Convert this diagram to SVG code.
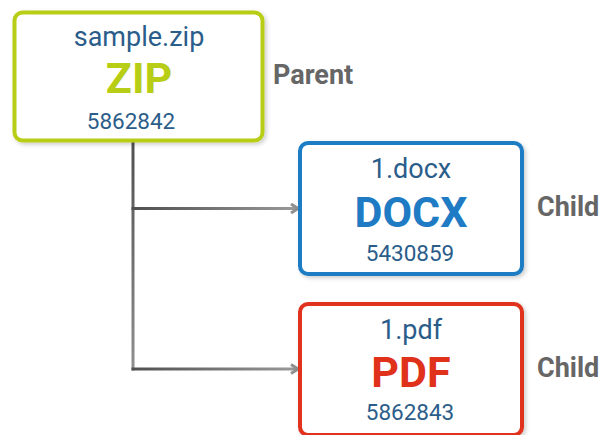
<svg xmlns="http://www.w3.org/2000/svg" width="603" height="435" viewBox="0 0 603 435">
  <style>
    .box { fill: #ffffff; stroke-width: 4; }
    .name { font-family: Roboto, "Liberation Sans", sans-serif; font-size: 27px; fill: #2b5d8a; text-anchor: middle; }
    .kind { font-family: Roboto, "Liberation Sans", sans-serif; font-size: 43px; font-weight: bold; text-anchor: middle; }
    .size { font-family: Roboto, "Liberation Sans", sans-serif; font-size: 22.5px; fill: #2b5d8a; text-anchor: middle; }
    .role { font-family: Roboto, "Liberation Sans", sans-serif; font-size: 27px; font-weight: bold; fill: #666666; }
    .wire { fill: none; stroke-width: 3; }
  </style>
  <defs>
    <filter id="shadow" x="-10%" y="-10%" width="125%" height="125%">
      <feDropShadow dx="2" dy="2" stdDeviation="2" flood-color="#000000" flood-opacity="0.2"/>
    </filter>
    <linearGradient id="branchGrad" gradientUnits="userSpaceOnUse" x1="133" y1="0" x2="298" y2="0">
      <stop offset="0" stop-color="#505050"/>
      <stop offset="1" stop-color="#9a9a9a"/>
    </linearGradient>
    <linearGradient id="trunkGrad" gradientUnits="userSpaceOnUse" x1="0" y1="142" x2="0" y2="370">
      <stop offset="0" stop-color="#505050"/>
      <stop offset="1" stop-color="#8f8f8f"/>
    </linearGradient>
    <marker id="arrow" markerWidth="12" markerHeight="12" refX="9" refY="6" orient="auto" markerUnits="userSpaceOnUse">
      <path d="M2,1.5 L9,6 L2,10.5" fill="none" stroke="#8f8f8f" stroke-width="3" stroke-linejoin="miter"/>
    </marker>
  </defs>

  <g id="connectors">
    <line class="wire" x1="133" y1="142" x2="133" y2="370.5" stroke="url(#trunkGrad)"/>
    <line class="wire" x1="131.5" y1="208.5" x2="298" y2="208.5" stroke="url(#branchGrad)" marker-end="url(#arrow)"/>
    <line class="wire" x1="131.5" y1="369" x2="298" y2="369" stroke="url(#branchGrad)" marker-end="url(#arrow)"/>
  </g>

  <g id="zip-node">
    <rect class="box" x="14.5" y="12.5" width="248" height="128" rx="8" stroke="#b7cd16" filter="url(#shadow)"/>
    <text class="name" x="139" y="46">sample.zip</text>
    <text class="kind" x="139" y="93" fill="#b7cd16">ZIP</text>
    <text class="size" x="131" y="129">5862842</text>
  </g>
  <text class="role" x="273" y="84">Parent</text>

  <g id="docx-node">
    <rect class="box" x="300" y="143" width="222" height="131" rx="8" stroke="#1f7bc4" filter="url(#shadow)"/>
    <text class="name" x="411" y="178">1.docx</text>
    <text class="kind" x="411" y="227" fill="#1f7bc4">DOCX</text>
    <text class="size" x="410" y="261">5430859</text>
  </g>
  <text class="role" x="537" y="216">Child</text>

  <g id="pdf-node">
    <rect class="box" x="300" y="304" width="222" height="131" rx="8" stroke="#e0321b" filter="url(#shadow)"/>
    <text class="name" x="411" y="339">1.pdf</text>
    <text class="kind" x="411" y="387" fill="#e0321b">PDF</text>
    <text class="size" x="410" y="420">5862843</text>
  </g>
  <text class="role" x="537" y="377">Child</text>
</svg>
